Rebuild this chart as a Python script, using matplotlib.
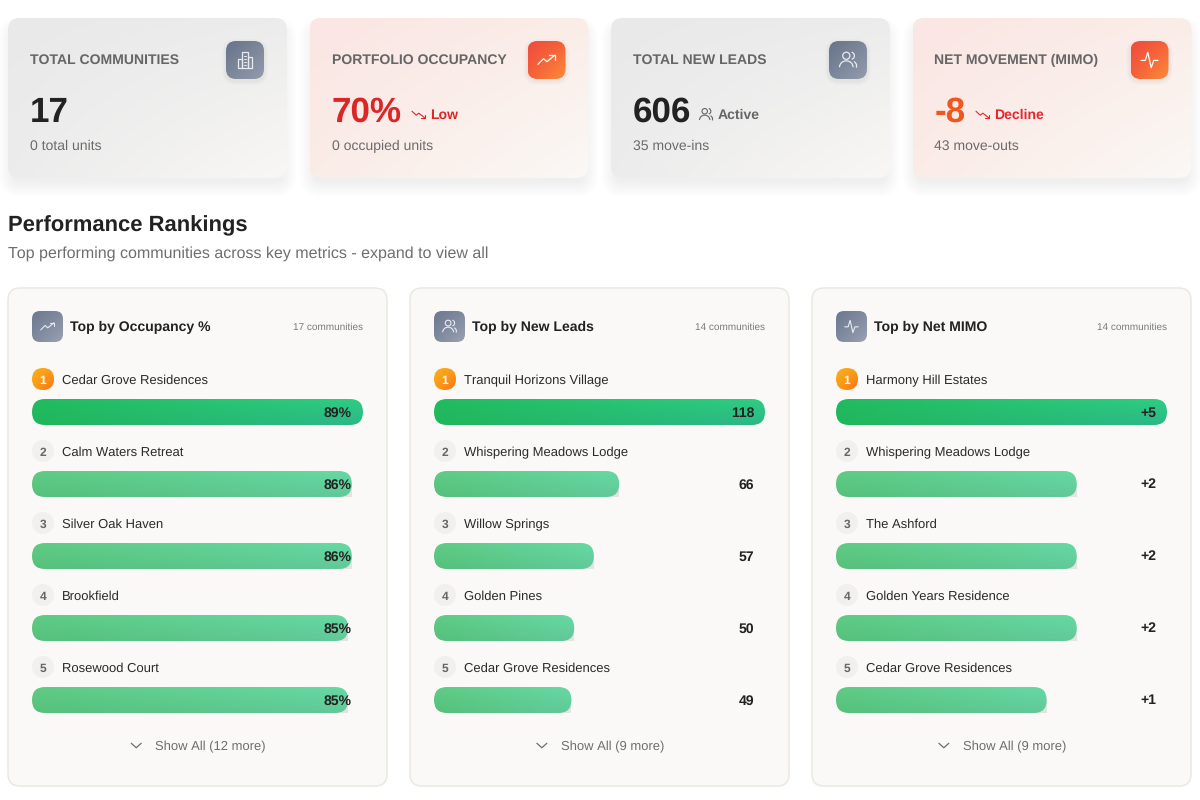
import numpy as np
import matplotlib
matplotlib.use("Agg")
import matplotlib.pyplot as plt
from matplotlib.colors import to_rgb
from matplotlib.patches import FancyBboxPatch, Circle, Arc, Rectangle

plt.rcParams['font.family'] = ['Liberation Sans', 'DejaVu Sans']
plt.rcParams['text.hinting'] = 'none'
plt.rcParams['text.hinting_factor'] = 1

# kpi cards
card_labels = ["TOTAL COMMUNITIES", "PORTFOLIO OCCUPANCY", "TOTAL NEW LEADS", "NET MOVEMENT (MIMO)"]
card_values = ["17", "70%", "606", "-8"]
card_trends = ["", "Low", "Active", "Decline"]
card_subs = ["0 total units", "0 occupied units", "35 move-ins", "43 move-outs"]

# rankings
panel_titles = ["Top by Occupancy %", "Top by New Leads", "Top by Net MIMO"]
panel_counts = ["17 communities", "14 communities", "14 communities"]
panel_more = ["Show All (12 more)", "Show All (9 more)", "Show All (9 more)"]
occ_names = ["Cedar Grove Residences", "Calm Waters Retreat", "Silver Oak Haven", "Brookfield", "Rosewood Court"]
occ_values = [89, 86, 86, 85, 85]
lead_names = ["Tranquil Horizons Village", "Whispering Meadows Lodge", "Willow Springs", "Golden Pines", "Cedar Grove Residences"]
lead_values = [118, 66, 57, 50, 49]
mimo_names = ["Harmony Hill Estates", "Whispering Meadows Lodge", "The Ashford", "Golden Years Residence", "Cedar Grove Residences"]
mimo_values = [5, 2, 2, 2, 1]

fig = plt.figure(figsize=(12, 8), dpi=100)
ax = fig.add_axes([0, 0, 1, 1])
ax.axis("off")
ax.set_xlim(0, 1200)
ax.set_ylim(800, 0)


def px(size):
    return size * 0.72


def rbox(x, y, w, h, r, **kw):
    p = FancyBboxPatch((x + r, y + r), w - 2 * r, h - 2 * r,
                       boxstyle="round,pad=%f,rounding_size=%f" % (r, r), **kw)
    ax.add_patch(p)
    return p


def gradbox(x, y, w, h, r, tl, tr, bl, br, z=2):
    # four corner gradient clipped by a rounded box
    tl, tr, bl, br = [np.array(to_rgb(c)) for c in (tl, tr, bl, br)]
    u = np.linspace(0, 1, 80)[None, :, None]
    v = np.linspace(0, 1, 40)[:, None, None]
    img = (1 - v) * ((1 - u) * tl + u * tr) + v * ((1 - u) * bl + u * br)
    im = ax.imshow(img, extent=(x, x + w, y + h, y), aspect="auto", zorder=z, interpolation="bilinear")
    clip = rbox(x, y, w, h, r, fc="none", ec="none", zorder=z)
    im.set_clip_path(clip)


def shadow(x, y, w, h, r, dy, blur, alpha, inset=0, z=1):
    for i in range(blur):
        g = blur - i - inset
        rbox(x - g, y + dy - g, w + 2 * g, h + 2 * g, max(r + g, 1), fc="#000000", ec="none",
             alpha=alpha, zorder=z)


def line(pts, color, lw=1.1, z=5):
    xs, ys = zip(*pts)
    ax.plot(xs, ys, color=color, lw=lw, zorder=z, solid_capstyle="round", solid_joinstyle="round")


def icon(kind, cx, cy, s, color, lw=1.0):
    # s is half the icon size, shapes in unit coordinates
    P = lambda a: [(cx + s * p[0], cy + s * p[1]) for p in a]
    if kind == "up":
        line(P([(-1, .5), (-.35, -.15), (.05, .2), (.95, -.55)]), color, lw)
        line(P([(.35, -.55), (.95, -.55), (.95, -.05)]), color, lw)
    elif kind == "down":
        line(P([(-1, -.5), (-.35, .1), (.05, -.2), (.95, .5)]), color, lw)
        line(P([(.35, .55), (.95, .55), (.95, .05)]), color, lw)
    elif kind == "pulse":
        line(P([(-1, .05), (-.5, .05), (-.2, -.9), (.2, .9), (.5, .05), (1, .05)]), color, lw)
    elif kind == "people":
        ax.add_patch(Circle((cx - .2 * s, cy - .5 * s), .42 * s, fc="none", ec=color, lw=lw, zorder=5))
        ax.add_patch(Arc((cx - .2 * s, cy + .85 * s), 1.6 * s, 1.5 * s, theta1=180, theta2=360, ec=color, lw=lw, zorder=5))
        ax.add_patch(Arc((cx + .35 * s, cy - .5 * s), .8 * s, .85 * s, theta1=-80, theta2=80, ec=color, lw=lw, zorder=5))
        line(P([(.75, .2), (1, .5), (1, .85)]), color, lw)
    elif kind == "building":
        ax.add_patch(Rectangle((cx - .4 * s, cy - .9 * s), .8 * s, 1.8 * s, fc="none", ec=color, lw=lw, zorder=5))
        ax.add_patch(Rectangle((cx - .85 * s, cy - .1 * s), .45 * s, 1.0 * s, fc="none", ec=color, lw=lw, zorder=5))
        ax.add_patch(Rectangle((cx + .4 * s, cy - .3 * s), .45 * s, 1.2 * s, fc="none", ec=color, lw=lw, zorder=5))
        for dy in (-.5, -.15, .2, .55):
            line(P([(-.15, dy), (.15, dy)]), color, lw * .8)
    elif kind == "chevron":
        line(P([(-1, -.45), (0, .45), (1, -.45)]), color, lw)


# --- kpi cards ---
card_x = [8, 309.5, 611, 912.5]
card_icons = ["building", "up", "people", "pulse"]
value_colors = ["#222222", "#DC2626", "#222222", "#F0561F"]
trend_colors = [None, "#DC2626", "#666666", "#E8262B"]
trend_icons = [None, "down", "people", "down"]
trend_offset = [0, 80, 66, 41]  # icon start after the big value

for i, x in enumerate(card_x):
    shadow(x, 18, 279, 160, 12, 9, 16, 0.003, inset=6)
    if i % 2 == 0:
        gradbox(x, 18, 279, 160, 12, "#E9E9EA", "#ECECEC", "#ECECEC", "#F8F7F5")
        shadow(x + 218, 41, 38, 38, 10, 2, 4, 0.012, z=2.5)
        gradbox(x + 218, 41, 38, 38, 10, "#677389", "#7C879B", "#7C879B", "#949CAD", z=3)
    else:
        gradbox(x, 18, 279, 160, 12, "#FAE6E4", "#FBEDE8", "#FBECE7", "#FAF8F5")
        shadow(x + 218, 41, 38, 38, 10, 2, 4, 0.012, z=2.5)
        gradbox(x + 218, 41, 38, 38, 10, "#EF4B3F", "#F56038", "#F56038", "#FD8C3A", z=3)
    icon(card_icons[i], x + 237, 60, 8.5, "#FFFFFF" if i % 2 else "#E8EBF0", 0.9)
    ax.text(x + 22, 64, card_labels[i], fontsize=px(13.5), fontweight="bold", color="#666666", zorder=6)
    ax.text(x + 22, 122, card_values[i], fontsize=px(35), fontweight="bold", color=value_colors[i], zorder=6)
    ax.text(x + 22, 150, card_subs[i], fontsize=px(14), color="#6B6B6B", zorder=6)
    if card_trends[i]:
        tx = x + 22 + trend_offset[i]
        icon(trend_icons[i], tx + 7, 114.5, 6.5, trend_colors[i], 0.8)
        ax.text(tx + 18.5, 119, card_trends[i], fontsize=px(13.5), fontweight="bold", color=trend_colors[i], zorder=6)

# --- section heading ---
ax.text(8, 231, "Performance Rankings", fontsize=px(21.6), fontweight="bold", color="#222222", zorder=6)
ax.text(8, 258, "Top performing communities across key metrics - expand to view all",
        fontsize=px(15.8), color="#6E6E6E", zorder=6)

# --- ranking panels ---
panel_x = [8, 410, 812]
panel_icons = ["up", "people", "pulse"]
names = [occ_names, lead_names, mimo_names]
values = [occ_values, lead_values, mimo_values]
baselines = [0, 0, -6]  # bar scale origin per panel
label_fmt = ["{}%", "{}", "{:+d}"]
TRACK = 331
renderer = fig.canvas.get_renderer()

for p, x in enumerate(panel_x):
    shadow(x, 288, 379, 498, 12, 1, 2, 0.004)
    rbox(x, 288, 379, 498, 12, fc="#FBF9F7", ec="#E9E7E2", lw=1.0, zorder=2)
    left = x + 24
    gradbox(left, 311, 31, 31, 8, "#6B7890", "#7F8A9E", "#7F8A9E", "#9AA1B2", z=3)
    icon(panel_icons[p], left + 15.5, 326.5, 6.8, "#E8EBF0", 0.8)
    ax.text(left + 38, 331, panel_titles[p], fontsize=px(14.1), fontweight="bold", color="#222222", zorder=6)
    ax.text(left + TRACK, 330, panel_counts[p], fontsize=px(10.5), color="#7A7A7A", ha="right", zorder=6)

    top = max(values[p]) - baselines[p]
    for r, (name, val) in enumerate(zip(names[p], values[p])):
        ry = 72 * r
        if r == 0:
            gradbox(left, 368, 22, 22, 11, "#FBB01C", "#FB9D18", "#FB9D18", "#F97316", z=3)
            ax.text(left + 11, 383.5, "1", fontsize=px(12), fontweight="bold", color="#FFFFFF", ha="center", zorder=6)
        else:
            ax.add_patch(Circle((left + 11, 379 + ry), 11, fc="#F1F0EF", ec="none", zorder=3))
            ax.text(left + 11, 383.5 + ry, str(r + 1), fontsize=px(12), fontweight="bold", color="#666666", ha="center", zorder=6)
        ax.text(left + 30, 384 + ry, name, fontsize=px(13.3), color="#2A2A2A", zorder=6)

        w = (val - baselines[p]) / top * TRACK
        by = 399 + ry
        if r == 0:
            gradbox(left, by, w, 26, 13, "#21BB5F", "#2ECD82", "#20B75B", "#2CB88A")
        else:
            ax.add_patch(Rectangle((left + w - 13, by + 13), 13, 13, fc="#E3E3DF", ec="none", zorder=2))
            gradbox(left, by, w, 26, 13, "#5FCB85", "#66D9A3", "#55C17B", "#62C99A", z=3)
        lx = left + TRACK - (11.5 if p == 0 else 10.5)
        ax.text(lx, 416.5 + ry, label_fmt[p].format(val), fontsize=px(14), fontweight="bold",
                color="#222222", ha="right", zorder=6)

    # show all row, chevron sits left of the centred text
    t = ax.text(x + 189.5 + 13, 750, panel_more[p], fontsize=px(13.15), color="#6E6E6E", ha="center", zorder=6)
    icon("chevron", t.get_window_extent(renderer).x0 - 19, 745.5, 5, "#6E6E6E", 0.9)

fig.savefig("out.png", dpi=100, facecolor="white")
